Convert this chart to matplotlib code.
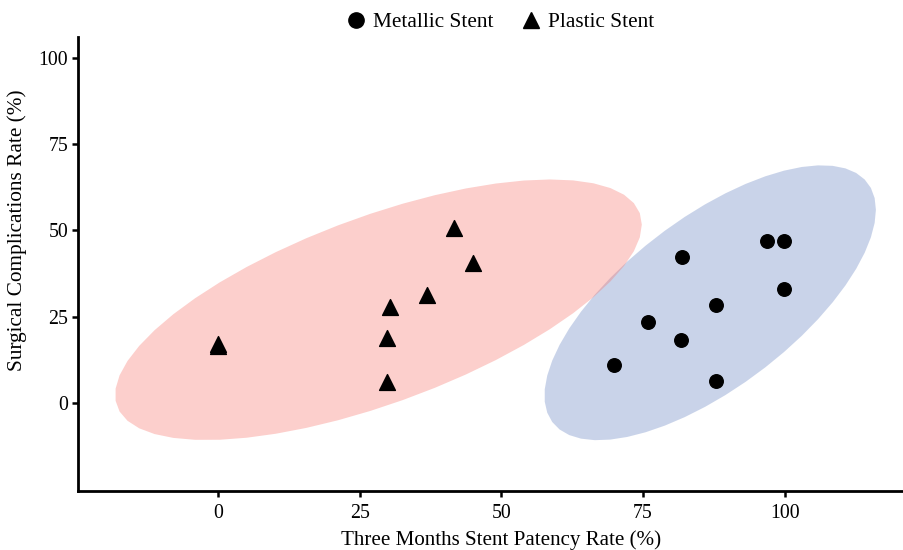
import numpy as np
import matplotlib
matplotlib.use("Agg")
import matplotlib.pyplot as plt
from matplotlib.lines import Line2D

plt.rcParams['font.family'] = ['Liberation Serif', 'DejaVu Serif']

# data
metal_x = [81.8, 96.8, 99.8, 99.8, 87.8, 75.9, 81.6, 69.8, 87.8]
metal_y = [42.2, 47.0, 47.0, 33.1, 28.4, 23.5, 18.2, 11.0, 6.5]
plastic_x = [0.0, 0.0, 30.3, 29.9, 29.9, 36.9, 41.6, 44.9]
plastic_y = [16.5, 17.0, 27.8, 18.8, 6.1, 31.4, 50.7, 40.6]
xticks = [0, 25, 50, 75, 100]
yticks = [0, 25, 50, 75, 100]


def cov_trob(x, nu=5, maxit=25, tol=0.01):
    # port of MASS::cov.trob with unit weights
    n, p = x.shape
    wt = np.ones(n)
    loc = x.mean(axis=0)
    w = np.sqrt(wt)
    for _ in range(maxit):
        w0 = w
        X = x - loc
        _, d, vt = np.linalg.svd(np.sqrt(w / w.sum())[:, None] * X, full_matrices=False)
        wX = X @ vt.T @ np.diag(1 / d)
        Q = (wX ** 2).sum(axis=1)
        w = wt * (nu + p) / (nu + Q)
        loc = (w[:, None] * x).sum(axis=0) / w.sum()
        if np.all(np.abs(w - w0) < tol):
            break
    cov = (np.sqrt(w)[:, None] * X).T @ (np.sqrt(w)[:, None] * X) / wt.sum()
    return loc, cov


def ellipse(xs, ys, level=0.95, segments=51):
    pts = np.column_stack([xs, ys])
    center, shape = cov_trob(pts)
    dfd = len(xs) - 1
    f = dfd / 2 * ((1 - level) ** (-2 / dfd) - 1)  # qf(level, 2, dfd)
    radius = np.sqrt(2 * f)
    ang = np.linspace(0, 2 * np.pi, segments + 1)
    circ = np.column_stack([np.cos(ang), np.sin(ang)])
    chol = np.linalg.cholesky(shape).T
    return center + radius * circ @ chol


fig = plt.figure(figsize=(9.04, 5.50), dpi=100)
ax = fig.add_axes([0.0863, 0.107, 0.911, 0.826])

e1 = ellipse(metal_x, metal_y)
e2 = ellipse(plastic_x, plastic_y)
ax.fill(e1[:, 0], e1[:, 1], color="#3A5FB0", alpha=0.27, lw=0)
ax.fill(e2[:, 0], e2[:, 1], color="#F8766D", alpha=0.35, lw=0)

ax.scatter(metal_x, metal_y, marker="o", s=95, color="black", zorder=3)
ax.scatter(plastic_x, plastic_y, marker="^", s=130, color="black", zorder=3)

ax.set_xlim(-24.7, 120.6)
ax.set_ylim(-25.5, 106)
ax.set_xticks(xticks)
ax.set_yticks(yticks)
ax.tick_params(labelsize=14.3, width=1.8, length=4.5, color="black", labelcolor="black")
ax.tick_params(axis="x", pad=5)
ax.tick_params(axis="y", pad=2.5)
for s in ["top", "right"]:
    ax.spines[s].set_visible(False)
for s in ["left", "bottom"]:
    ax.spines[s].set_linewidth(2)
ax.set_xlabel("Three Months Stent Patency Rate (%)", fontsize=15.1)
ax.set_ylabel("Surgical Complications Rate (%)", fontsize=15.3)
ax.xaxis.set_label_coords(0.514, -0.086)
ax.yaxis.set_label_coords(-0.062, 0.5745)

handles = [
    Line2D([], [], marker="o", ls="", color="black", markersize=11, label="Metallic Stent"),
    Line2D([], [], marker="^", ls="", color="black", markersize=12, label="Plastic Stent"),
]
fig.legend(handles=handles, loc="upper center", bbox_to_anchor=(0.553, 1.012), ncol=2,
           frameon=False, fontsize=15.3, handlelength=1.0, handletextpad=0.3,
           columnspacing=1.29)

fig.savefig("out.png", dpi=100)
